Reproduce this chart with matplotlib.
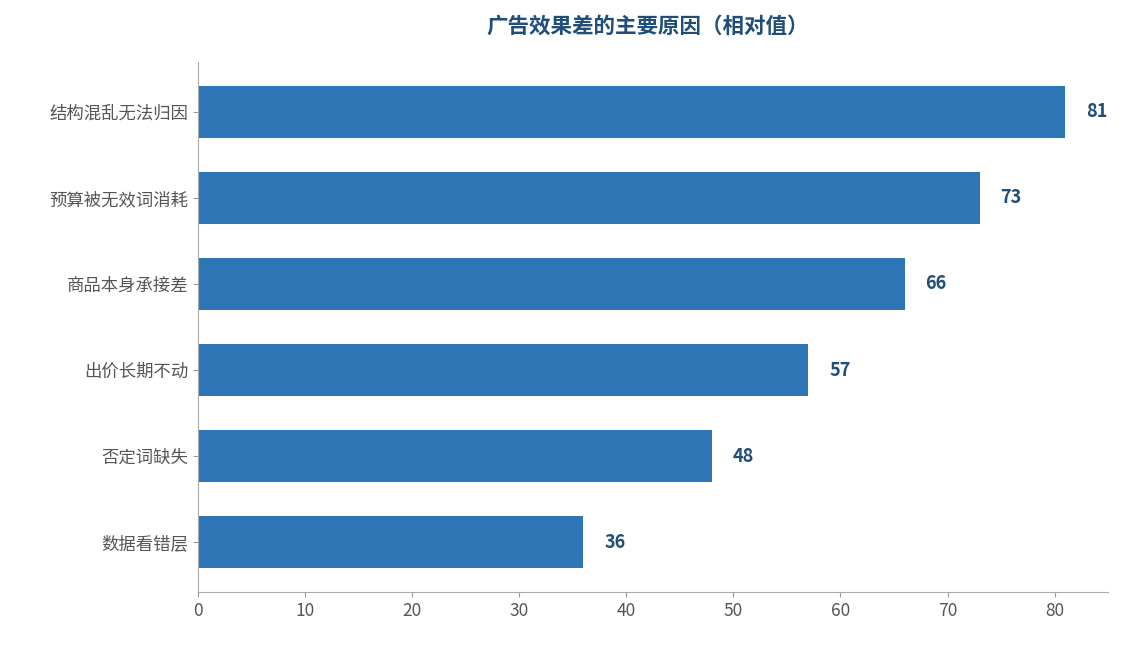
import matplotlib
matplotlib.use("Agg")
import matplotlib.pyplot as plt

plt.rcParams['font.family'] = ['Noto Sans CJK SC', 'DejaVu Sans']

categories = ["结构混乱无法归因", "预算被无效词消耗", "商品本身承接差", "出价长期不动", "否定词缺失", "数据看错层"]
values = [81, 73, 66, 57, 48, 36]
xticks = [0, 10, 20, 30, 40, 50, 60, 70, 80]

fig = plt.figure(figsize=(11.24, 6.45), dpi=100)
ax = fig.add_axes([0.176, 0.082, 0.81, 0.822])
y = list(range(len(categories)))[::-1]
ax.barh(y, values, height=0.6, color="#2E75B6")
for yi, v in zip(y, values):
    ax.annotate(str(v), (v, yi), xytext=(15, 0), textcoords="offset points",
                va="center", ha="left", fontsize=13, fontweight="bold", color="#1F4E79")
ax.set_yticks(y)
ax.set_yticklabels(categories)
ax.set_xticks(xticks)
ax.set_xlim(0, 85)
ax.tick_params(axis='both', colors="#555555", labelsize=12.5)
ax.tick_params(axis='both', color="#999999")
for s in ["top", "right"]:
    ax.spines[s].set_visible(False)
for s in ["left", "bottom"]:
    ax.spines[s].set_color("#AAAAAA")
fig.suptitle("广告效果差的主要原因（相对值）", x=0.576, y=0.975, fontsize=15.5,
             fontweight="bold", color="#1F4E79")
fig.savefig("out.png", dpi=100)
